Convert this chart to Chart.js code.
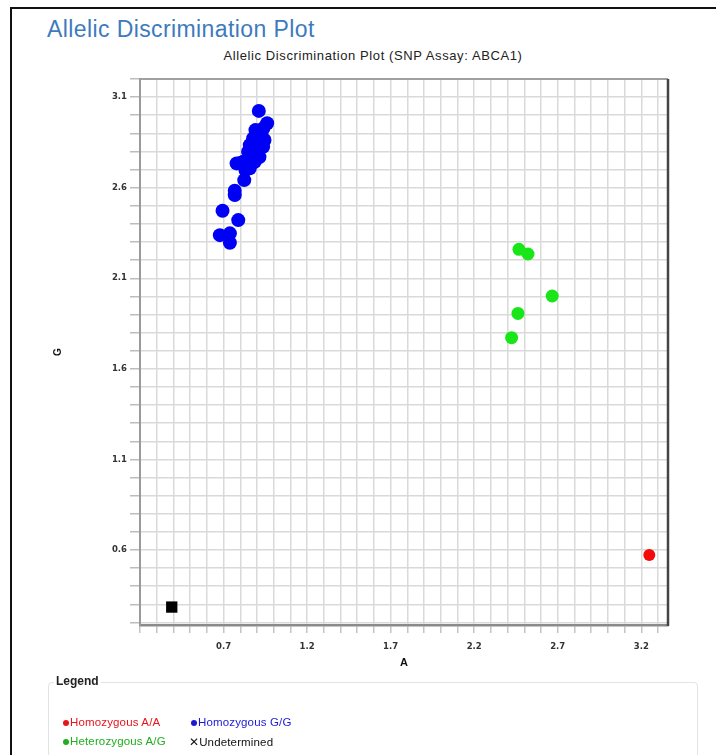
<!DOCTYPE html>
<html>
<head>
<meta charset="utf-8">
<script src="https://cdn.jsdelivr.net/npm/chart.js@4/dist/chart.umd.min.js"></script>
<style>
  html, body { margin:0; padding:0; background:#fff; }
  body { width:716px; height:755px; position:relative; overflow:hidden; font-family:"Liberation Sans", Arial, sans-serif; }
  #frame { position:absolute; left:10px; top:7px; width:720px; height:760px; border-left:2px solid #111; border-top:2px solid #111; }
  #heading { position:absolute; left:47px; top:16px; font-size:23px; line-height:26px; color:#3d7bbd; white-space:nowrap; letter-spacing:0.4px; }
  #ctitle { position:absolute; left:0; width:746px; top:48px; text-align:center; font-size:13px; color:#222; white-space:nowrap; letter-spacing:0.6px; }
  #wrap { position:absolute; left:0; top:0; width:716px; height:680px; }
  #legendbox { position:absolute; left:48px; top:682px; width:648px; height:100px; border:1px solid #dfe4e8; border-radius:4px; }
  #legendtitle { position:absolute; left:54px; top:674px; background:#fff; padding:0 2px; font-size:12px; font-weight:bold; color:#222; }
  .item { position:absolute; font-size:11.5px; white-space:nowrap; letter-spacing:0.15px; }
  .dot { display:inline-block; width:6px; height:6px; border-radius:50%; margin-right:1px; vertical-align:0px; }
</style>
</head>
<body>
<div id="frame"></div>
<div id="heading">Allelic Discrimination Plot</div>
<div id="ctitle">Allelic Discrimination Plot (SNP Assay: ABCA1)</div>
<div id="wrap"><canvas id="c" width="716" height="680"></canvas></div>
<div id="legendbox"></div>
<div id="legendtitle">Legend</div>
<div class="item" style="left:63px;top:716px;color:#e8141c"><span class="dot" style="background:#e8141c"></span>Homozygous A/A</div>
<div class="item" style="left:191px;top:716px;color:#1a1ad6"><span class="dot" style="background:#1a1ad6"></span>Homozygous G/G</div>
<div class="item" style="left:63px;top:735px;color:#1fae1f"><span class="dot" style="background:#1fae1f"></span>Heterozygous A/G</div>
<div class="item" style="left:189px;top:735px;color:#111">✕Undetermined</div>
<script>
// ---- data ----
const homAA_x = [3.248];
const homAA_y = [0.572];

const homGG_x = [0.911, 0.961, 0.891, 0.927, 0.877, 0.857, 0.937, 0.907, 0.847, 0.778, 0.818, 0.887,
                 0.857, 0.824, 0.767, 0.767, 0.694, 0.788, 0.678, 0.738, 0.738, 0.945, 0.867, 0.915,
                 0.831, 0.939, 0.801];
const homGG_y = [3.024, 2.956, 2.918, 2.890, 2.872, 2.835, 2.826, 2.808, 2.798, 2.734, 2.743, 2.743,
                 2.707, 2.642, 2.583, 2.559, 2.473, 2.421, 2.338, 2.348, 2.296, 2.863, 2.769, 2.769,
                 2.697, 2.929, 2.736];

const het_x = [2.468, 2.522, 2.667, 2.462, 2.424];
const het_y = [2.260, 2.234, 2.002, 1.906, 1.772];

const undet_x = [0.39];
const undet_y = [0.285];

const xTickLabels = [0.7, 1.2, 1.7, 2.2, 2.7, 3.2];
const yTickLabels = [0.6, 1.1, 1.6, 2.1, 2.6, 3.1];
const xRange = [0.2, 3.36];
const yRange = [0.186, 3.2];

function pts(xs, ys) { return xs.map((x, i) => ({ x: x, y: ys[i] })); }
function gridTicks(lo, hi) {
  const t = [];
  for (let i = Math.ceil(lo * 10 - 1e-6); i <= Math.floor(hi * 10 + 1e-6); i++) t.push({ value: i / 10 });
  return t;
}
function labelFor(list) {
  return function (v) { return list.some(l => Math.abs(l - v) < 1e-6) ? v.toFixed(1) : ''; };
}

const framePlugin = {
  id: 'frame',
  afterDraw(chart) {
    const a = chart.chartArea, ctx = chart.ctx;
    ctx.save();
    ctx.strokeStyle = '#a0a0a0'; ctx.lineWidth = 2;
    ctx.beginPath(); ctx.moveTo(a.left, a.top); ctx.lineTo(a.right, a.top); ctx.stroke();
    ctx.strokeStyle = '#444'; ctx.lineWidth = 2.5;
    ctx.beginPath(); ctx.moveTo(a.right, a.top); ctx.lineTo(a.right, a.bottom + 1); ctx.stroke();
    ctx.restore();
  }
};

const tickFont = { family: '"DejaVu Sans", sans-serif', size: 8.5, weight: 'bold' };

new Chart(document.getElementById('c'), {
  type: 'scatter',
  data: {
    datasets: [
      { label: 'Homozygous G/G', data: pts(homGG_x, homGG_y), backgroundColor: '#0000f5', borderColor: '#0000f5', pointRadius: 7, pointBorderWidth: 0 },
      { label: 'Heterozygous A/G', data: pts(het_x, het_y), backgroundColor: '#19e619', borderColor: '#19e619', pointRadius: 6.5, pointBorderWidth: 0 },
      { label: 'Homozygous A/A', data: pts(homAA_x, homAA_y), backgroundColor: '#f50a0a', borderColor: '#f50a0a', pointRadius: 6, pointBorderWidth: 0 },
      { label: 'Undetermined', data: pts(undet_x, undet_y), backgroundColor: '#000', borderColor: '#000', pointStyle: 'rect', pointRadius: 8, pointBorderWidth: 0 }
    ]
  },
  options: {
    responsive: false,
    animation: false,
    events: [],
    layout: { padding: { left: 40, right: 48, top: 79, bottom: 4 } },
    plugins: { legend: { display: false }, tooltip: { enabled: false }, title: { display: false } },
    scales: {
      x: {
        type: 'linear', min: xRange[0], max: xRange[1],
        afterBuildTicks: s => { s.ticks = gridTicks(xRange[0], xRange[1]); },
        afterFit: s => { s.height = 51; },
        grid: { color: '#d9d9d9', lineWidth: 1.5, tickLength: 8, tickColor: '#c4c4c4' },
        border: { color: '#8a8a8a', width: 2.5 },
        ticks: { callback: labelFor(xTickLabels), autoSkip: false, maxRotation: 0, color: '#333', font: tickFont, padding: 9 },
        title: { display: true, text: 'A', color: '#111', font: { family: '"Liberation Sans", sans-serif', size: 11, weight: 'bold' }, padding: { top: 4, bottom: 6 } }
      },
      y: {
        type: 'linear', min: yRange[0], max: yRange[1],
        afterBuildTicks: s => { s.ticks = gridTicks(yRange[0], yRange[1]); },
        afterFit: s => { s.width = 100; },
        grid: { color: '#d9d9d9', lineWidth: 1.5, tickLength: 10, tickColor: '#bdbdbd' },
        border: { color: '#9a9a9a', width: 2 },
        ticks: { callback: labelFor(yTickLabels), autoSkip: false, color: '#333', font: tickFont, padding: 3 },
        title: { display: true, text: 'G', color: '#111', font: { family: '"Liberation Sans", sans-serif', size: 10, weight: 'bold' }, padding: { top: 12, bottom: 0 } }
      }
    }
  },
  plugins: [framePlugin]
});
</script>
</body>
</html>
